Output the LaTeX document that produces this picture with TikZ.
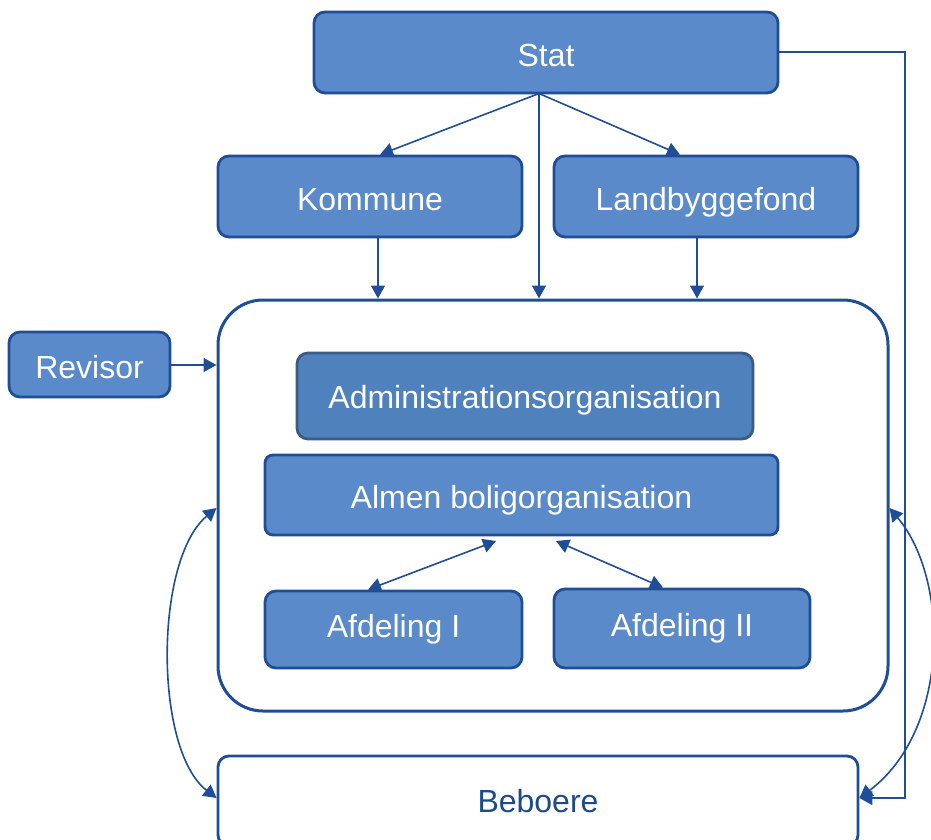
\documentclass[tikz,border=0pt]{standalone}
\usepackage{fontspec}
\setmainfont{Liberation Sans}
\usetikzlibrary{arrows.meta}
\definecolor{boxfill}{HTML}{5A8AC9}
\definecolor{boxline}{HTML}{1F4E96}
\definecolor{admfill}{HTML}{4F81BD}
\definecolor{admline}{HTML}{3B5A85}
\definecolor{bebtext}{HTML}{1F4A8A}
\begin{document}
\begin{tikzpicture}[x=1pt,y=-1pt,
  bluebox/.style={rounded corners=11pt, fill=boxfill, draw=boxline, line width=2.8pt,
    text=white, font=\fontsize{32}{36}\selectfont, inner sep=0pt, text height=28pt, text depth=0pt},
  whitebox/.style={rounded corners=11pt, fill=white, draw=boxline, line width=2.8pt, inner sep=0pt},
  tip/.style={Triangle[length=13pt,width=14pt]},
  conn/.style={draw=boxline, line width=1.6pt, -{Triangle[length=13pt,width=14pt]}},
  biconn/.style={draw=boxline, line width=1.6pt, {Triangle[length=13pt,width=14pt]}-{Triangle[length=13pt,width=14pt]}}]
\useasboundingbox (0,0) rectangle (931,840);
% container
\node[draw=boxline, line width=3pt, rounded corners=45pt, fill=white,
  minimum width=670pt, minimum height=411pt, inner sep=0pt] (cont) at (553,505.5) {};
\node[bluebox, minimum width=464pt, minimum height=81pt] (stat) at (546,52.5) {Stat};
\node[bluebox, minimum width=304pt, minimum height=81pt] (kom) at (370,196.5) {Kommune};
\node[bluebox, minimum width=304pt, minimum height=81pt] (land) at (706,196.5) {Landbyggefond};
\node[bluebox, minimum width=161pt, minimum height=65pt] (rev) at (89.5,364.5) {Revisor};
\node[bluebox, fill=admfill, draw=admline, minimum width=456pt, minimum height=86pt, text height=25pt] (adm) at (525,396) {Administrationsorganisation};
\node[bluebox, rounded corners=8pt, minimum width=513pt, minimum height=80pt, text height=27pt] (alm) at (521.5,495) {Almen boligorganisation};
\node[bluebox, minimum width=257pt, minimum height=77pt, text height=16pt] (af1) at (393.5,629.5) {Afdeling I};
\node[bluebox, minimum width=256pt, minimum height=79pt, text height=16pt] (af2) at (682,628.5) {Afdeling II};
\node[whitebox, minimum width=640pt, minimum height=90pt] (beb) at (538,801) {};
\node[font=\fontsize{32}{36}\selectfont, text=bebtext, inner sep=0pt] (bebt) at (538,801) {Beboere};
% connectors
\coordinate (s) at (539,93.5);
\draw[conn] (s) -- (kom.north -| 380,0);
\draw[conn] (s) -- (land.north -| 680,0);
\draw[conn] (s) -- (cont.north -| s);
\draw[conn] (kom.south -| 378,0) -- (cont.north -| 378,0);
\draw[conn] (land.south -| 697,0) -- (cont.north -| 697,0);
\draw[conn] (rev.east |- 0,365) -- (cont.west |- 0,365);
\draw[conn] (stat.east |- 0,52) -| (905,798) -- (beb.east |- 0,798);
\draw[biconn] (af1.north -| 368,0) -- (496,541);
\draw[biconn] (af2.north -| 663,0) -- (556,541);
\draw[biconn] (cont.west |- 0,508) .. controls (154,560) and (154,750) .. (beb.west |- 0,798);
\draw[biconn] (cont.east |- 0,508) .. controls (950,580) and (950,730) .. (beb.east |- 0,798);
\end{tikzpicture}
\end{document}
